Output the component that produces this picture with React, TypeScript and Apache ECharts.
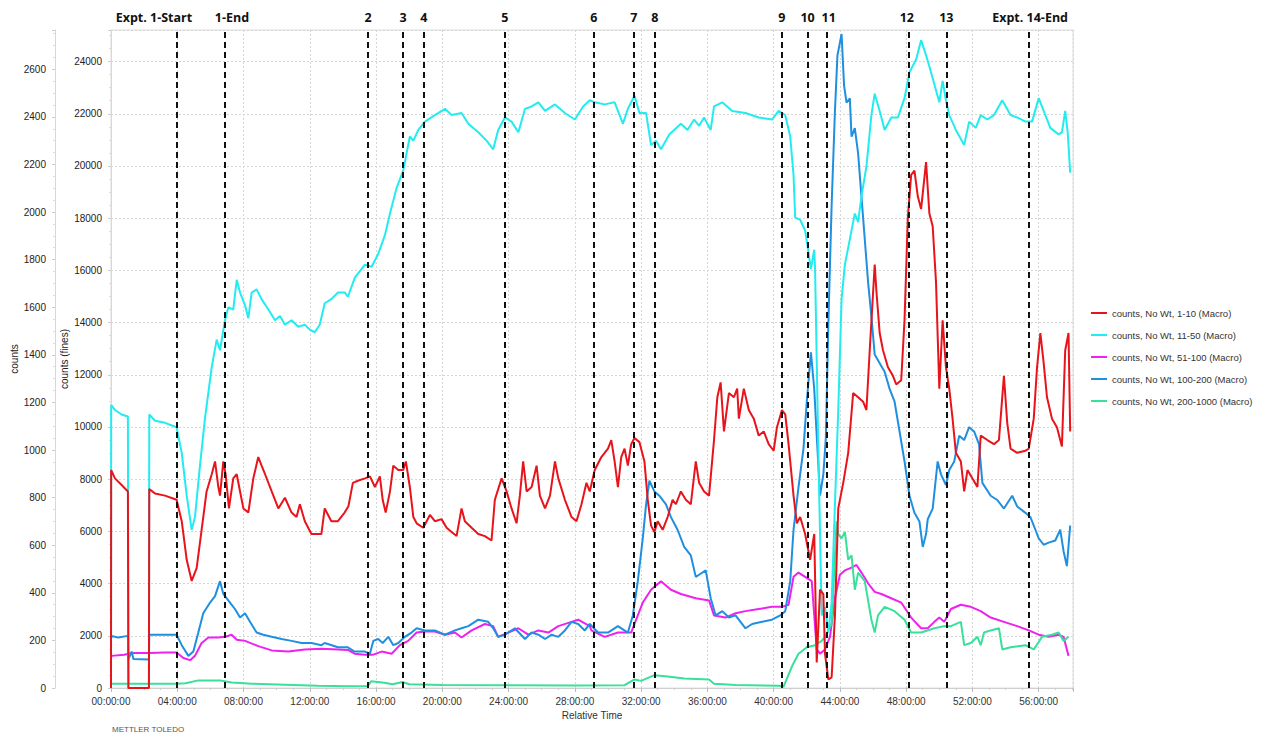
import React, { useEffect, useRef } from "react";
import * as echarts from "echarts";

// ---- data (time in hours, red/cyan in "counts (fines)", others in "counts") ----
const seriesNames = [
  "counts, No Wt, 1-10 (Macro)",
  "counts, No Wt, 11-50 (Macro)",
  "counts, No Wt, 51-100 (Macro)",
  "counts, No Wt, 100-200 (Macro)",
  "counts, No Wt, 200-1000 (Macro)",
];

const redData = [[0,0],[0.01,8350],[0.24,8030],[0.64,7780],[1.02,7530],[1.05,0],[2.29,0],[2.31,7620],[2.66,7450],[3.26,7370],[3.96,7210],[4.27,6390],[4.57,4910],[4.87,4100],[5.17,4590],[5.47,6060],[5.77,7530],[6.08,8190],[6.28,8680],[6.48,7700],[6.58,7370],[6.78,8680],[6.92,8190],[7.12,6880],[7.38,8030],[7.59,8190],[7.79,7530],[7.99,6880],[8.29,6720],[8.59,8030],[8.89,8850],[9.09,8520],[9.3,8190],[9.7,7530],[10.1,6880],[10.5,7290],[10.9,6720],[11.2,6550],[11.4,7040],[11.7,6390],[12.1,5900],[12.7,5900],[12.9,6880],[13.3,6390],[13.7,6390],[14.1,6720],[14.33,6960],[14.6,7860],[14.9,7940],[15.33,8030],[15.63,8110],[15.93,7700],[16.23,8110],[16.4,7210],[16.58,6720],[16.84,7530],[17.04,8520],[17.34,8350],[17.64,8350],[17.8,8680],[18.04,7700],[18.25,6550],[18.45,6310],[18.85,6140],[19.25,6630],[19.55,6390],[19.95,6470],[20.26,6140],[20.56,5980],[20.86,5820],[21.16,6880],[21.36,6390],[21.77,6140],[22.17,5900],[22.57,5820],[22.97,5650],[23.17,7210],[23.58,8030],[23.88,7530],[24.18,6880],[24.48,6310],[24.68,7370],[24.88,8680],[25.09,7530],[25.39,7700],[25.69,8520],[25.89,7370],[26.2,6880],[26.5,7370],[26.8,8680],[27.0,8030],[27.4,7210],[27.8,6550],[28.1,6390],[28.4,7040],[28.7,7860],[28.9,7530],[29.2,8350],[29.6,8850],[30.0,9170],[30.2,9500],[30.4,8680],[30.6,7700],[30.8,8850],[31.0,9170],[31.2,8520],[31.4,9340],[31.6,9580],[31.9,9420],[32.2,8680],[32.4,7210],[32.6,6220],[32.8,5980],[33.0,6390],[33.3,6060],[33.6,6550],[33.9,7210],[34.1,7040],[34.4,7530],[34.7,7210],[35.0,7040],[35.3,8680],[35.5,7860],[35.8,7530],[36.1,7370],[36.4,9500],[36.6,11140],[36.8,11710],[37.0,9830],[37.3,11300],[37.6,11140],[37.8,11470],[37.9,10320],[38.2,11470],[38.5,10650],[38.8,10320],[39.1,9670],[39.4,9830],[39.7,9340],[40.0,9090],[40.2,9990],[40.5,10650],[40.7,10480],[40.9,9340],[41.2,7370],[41.4,6310],[41.6,6550],[41.9,5900],[42.2,4910],[42.45,5900],[42.6,980],[42.8,3770],[43.0,3600],[43.1,1310],[43.3,330],[43.5,410],[43.7,2780],[43.9,6880],[44.2,7860],[44.5,9010],[44.8,11300],[45.1,11140],[45.4,10970],[45.6,10650],[45.8,12940],[46.1,16220],[46.2,15230],[46.4,13600],[46.6,12940],[46.9,12290],[47.2,11960],[47.4,11630],[47.7,11790],[47.9,14090],[48.1,18020],[48.3,19660],[48.5,19820],[48.7,18840],[48.9,18350],[49.2,20150],[49.4,18180],[49.6,17690],[49.8,15560],[50.0,11470],[50.2,14090],[50.4,12290],[50.6,11470],[50.8,10320],[51.0,9010],[51.3,8680],[51.5,7530],[51.7,8350],[52.0,8030],[52.3,7700],[52.5,9670],[52.9,9500],[53.3,9340],[53.6,9500],[53.9,11960],[54.1,10160],[54.3,9170],[54.7,9010],[55.2,9090],[55.4,9170],[55.7,10320],[55.9,12290],[56.1,13600],[56.3,12450],[56.5,11140],[56.8,10320],[57.1,9990],[57.4,9250],[57.6,12940],[57.8,13600],[57.9,9830]];

const cyanData = [[0,0],[0.01,10844],[0.24,10650],[0.64,10480],[1.02,10400],[1.05,0],[2.29,0],[2.31,10480],[2.66,10240],[3.26,10160],[3.96,9990],[4.27,9010],[4.57,7370],[4.87,6060],[5.07,6550],[5.37,8520],[5.67,10320],[6.08,12290],[6.38,13350],[6.58,12940],[6.88,14090],[7.08,14580],[7.38,14500],[7.59,15640],[7.79,15150],[8.09,14660],[8.29,14170],[8.49,15150],[8.79,15270],[9.09,14900],[9.5,14500],[9.9,14090],[10.2,14250],[10.5,13920],[10.9,14090],[11.3,13840],[11.7,13920],[12.0,13730],[12.3,13630],[12.6,13920],[12.9,14740],[13.3,14900],[13.7,15150],[14.12,15150],[14.3,14990],[14.72,15720],[15.33,16220],[15.73,16140],[16.13,16630],[16.54,17360],[16.84,18180],[17.24,19160],[17.64,19820],[18.04,21130],[18.25,20970],[18.55,21380],[18.95,21700],[19.55,21950],[20.16,22190],[20.56,21950],[21.16,22030],[21.57,21620],[22.17,21290],[22.67,20970],[23.07,20640],[23.37,21380],[23.78,21860],[24.18,21700],[24.59,21290],[24.99,22190],[25.39,22280],[25.8,22440],[26.2,22110],[26.8,22360],[27.4,22030],[28.0,21780],[28.5,22280],[28.9,22520],[29.2,22440],[29.8,22360],[30.4,22440],[30.9,21620],[31.2,22190],[31.6,22690],[31.9,22030],[32.3,22030],[32.6,20800],[32.9,20970],[33.2,20640],[33.7,21210],[34.4,21620],[34.8,21380],[35.2,21780],[35.5,21540],[35.8,21860],[36.2,21380],[36.4,22280],[36.9,22440],[37.5,22110],[38.3,22030],[39.1,21860],[39.9,21780],[40.3,22110],[40.7,21950],[41.0,21130],[41.2,19660],[41.3,18020],[41.6,17940],[41.9,17530],[42.1,16710],[42.25,16050],[42.45,16790],[42.5,16050],[42.7,9010],[42.9,2780],[43.1,3110],[43.3,2130],[43.5,3280],[43.7,7040],[43.9,10650],[44.1,14900],[44.3,16220],[44.6,17200],[44.9,18180],[45.1,17850],[45.3,18840],[45.6,19980],[45.9,21950],[46.1,22770],[46.4,22110],[46.7,21380],[47.1,21860],[47.5,21860],[47.9,22600],[48.2,23590],[48.6,24080],[48.9,24820],[49.2,24240],[49.5,23590],[50.0,22440],[50.2,23260],[50.4,22520],[50.6,21950],[51.0,21380],[51.5,20800],[51.8,21700],[52.2,21460],[52.5,21950],[52.9,21780],[53.3,21950],[53.8,22520],[54.3,21950],[54.7,21860],[55.2,21700],[55.6,21700],[56.0,22600],[56.3,22110],[56.7,21460],[57.2,21210],[57.4,21290],[57.6,22110],[57.75,21290],[57.9,19740]];

const magentaData = [[0,125],[0.02,135],[0.8,140],[1.25,147],[2.3,147],[3.26,149],[3.96,149],[4.37,126],[4.77,117],[5.07,135],[5.47,189],[5.88,212],[6.48,212],[6.88,215],[7.28,224],[7.59,203],[8.09,198],[8.89,176],[9.7,158],[10.7,153],[11.7,162],[12.7,165],[13.7,162],[14.3,160],[14.7,144],[15.33,140],[15.83,140],[16.34,153],[16.94,144],[17.44,180],[17.94,198],[18.45,233],[18.95,237],[19.55,237],[20.16,224],[20.76,233],[21.16,212],[21.77,242],[22.57,269],[23.07,260],[23.37,215],[23.98,233],[24.59,251],[25.19,224],[25.8,242],[26.4,233],[27.0,260],[27.8,278],[28.2,287],[28.9,260],[29.0,242],[29.8,215],[30.6,233],[31.4,233],[31.7,287],[32.1,359],[32.6,413],[33.2,449],[33.8,413],[34.4,395],[35.3,377],[36.1,368],[36.4,305],[37.1,296],[37.7,314],[38.3,323],[39.1,332],[39.9,341],[40.5,341],[40.9,350],[41.2,467],[41.5,485],[41.9,467],[42.3,449],[42.6,162],[42.8,144],[43.1,162],[43.4,215],[43.7,377],[44.0,476],[44.3,494],[44.7,506],[45.0,517],[45.3,485],[45.7,440],[46.1,404],[46.5,395],[47.1,377],[47.7,359],[48.3,296],[48.9,251],[49.3,251],[49.7,278],[50.0,296],[50.3,278],[50.7,332],[51.3,350],[51.9,341],[52.5,323],[53.1,296],[53.9,278],[54.7,260],[55.4,242],[56.0,224],[56.6,215],[57.2,224],[57.5,215],[57.8,135]];

const blueData = [[0,200],[0.01,219],[0.44,212],[1.02,219],[1.05,120],[1.25,153],[1.35,122],[2.29,120],[2.31,224],[3.26,224],[3.96,224],[4.27,180],[4.67,135],[4.97,153],[5.27,233],[5.57,314],[5.98,359],[6.28,386],[6.58,449],[6.78,395],[7.08,368],[7.48,332],[7.79,296],[8.09,314],[8.39,278],[8.79,233],[9.19,224],[9.7,215],[10.3,206],[10.9,198],[11.5,189],[12.1,189],[12.7,180],[12.9,189],[13.7,171],[14.3,171],[14.7,153],[15.33,153],[15.63,144],[15.83,198],[16.13,206],[16.4,189],[16.74,215],[17.04,180],[17.34,189],[17.74,215],[18.14,233],[18.45,251],[18.95,242],[19.55,242],[20.16,224],[20.76,242],[21.16,251],[21.57,260],[22.17,287],[22.77,278],[23.07,251],[23.37,215],[23.78,224],[24.38,251],[24.99,206],[25.39,233],[25.8,224],[26.2,206],[26.6,224],[27.0,215],[27.4,242],[27.8,278],[28.2,269],[28.6,242],[28.9,269],[29.4,233],[30.0,233],[30.6,260],[31.2,233],[31.5,305],[31.8,449],[32.1,629],[32.3,772],[32.5,871],[32.8,826],[33.1,808],[33.5,772],[33.8,718],[34.2,665],[34.6,593],[35.0,557],[35.3,467],[35.5,476],[35.9,494],[36.2,377],[36.5,305],[36.9,323],[37.3,296],[37.7,305],[38.3,251],[38.7,269],[39.3,278],[39.9,287],[40.4,305],[40.7,323],[41.0,449],[41.2,665],[41.5,844],[41.8,1006],[42.0,1203],[42.25,1410],[42.45,1257],[42.6,1060],[42.8,808],[43.0,898],[43.15,1050],[43.3,1527],[43.5,2030],[43.7,2425],[43.85,2658],[44.0,2712],[44.1,2748],[44.25,2532],[44.4,2460],[44.6,2478],[44.7,2317],[44.9,2353],[45.1,2245],[45.3,2065],[45.5,1886],[45.7,1706],[45.9,1562],[46.1,1401],[46.4,1365],[46.7,1329],[47.0,1257],[47.3,1203],[47.6,1078],[47.9,952],[48.2,808],[48.5,736],[48.8,700],[49.0,593],[49.2,647],[49.3,709],[49.6,754],[49.9,952],[50.1,898],[50.4,853],[50.6,916],[50.9,952],[51.2,1060],[51.5,1042],[51.8,1096],[52.1,1078],[52.4,1024],[52.6,862],[53.1,808],[53.5,790],[53.9,754],[54.4,808],[54.7,763],[55.2,736],[55.5,718],[55.8,665],[56.0,629],[56.3,602],[56.6,611],[57.0,620],[57.3,665],[57.5,575],[57.7,512],[57.9,683]];

const greenData = [[0,10],[0.02,18],[3.96,18],[4.5,20],[5.27,32],[5.9,31],[6.58,32],[7.28,23],[8.5,18],[10.5,14],[12.5,9],[14.3,7],[15.5,8],[15.7,28],[16.5,22],[17.0,16],[17.6,25],[18.0,16],[20,13],[24,12],[28,11],[31.0,12],[31.6,36],[32.0,30],[32.8,54],[33.6,48],[34.6,40],[36.1,36],[36.4,18],[37.7,13],[40.3,9],[40.6,6],[41.1,90],[41.5,144],[42.0,171],[42.5,180],[42.9,198],[43.1,215],[43.5,269],[43.8,700],[43.9,647],[44.1,629],[44.3,656],[44.5,539],[44.7,557],[44.9,413],[45.1,485],[45.5,449],[45.9,287],[46.1,233],[46.3,305],[46.7,341],[47.3,323],[47.9,287],[48.3,233],[48.9,233],[49.7,251],[50.3,260],[50.7,260],[51.3,278],[51.5,180],[51.9,189],[52.3,215],[52.5,180],[52.7,233],[53.1,242],[53.6,251],[53.8,162],[54.3,171],[55.2,180],[55.7,162],[56.2,215],[56.8,224],[57.2,233],[57.5,198],[57.8,215]];

const eventTimes = [3.98, 6.88, 15.52, 17.63, 18.89, 23.78, 29.15, 31.56, 32.83, 40.5, 42.05, 43.2, 48.16, 50.42, 55.42];
const eventLabels = ["Expt. 1-Start", "1-End", "2", "3", "4", "5", "6", "7", "8", "9", "10", "11", "12", "13", "Expt. 14-End"];
const eventLabelShift = [-23, 7, 0, 0, 0, 0, 0, 0, 0, 0, 0, 2, -2, 0, 1];

const colors = ["#e8141b", "#22ecf0", "#ee22ee", "#1f8fe0", "#38e09a"];
const FONT = "Liberation Sans, Arial, sans-serif";

export default function App() {
  const ref = useRef<HTMLDivElement>(null);
  useEffect(() => {
    const chart = echarts.init(ref.current!, null, { renderer: "svg" });
    const pad = (v: number) => (v < 10 ? "0" + v : "" + v) + ":00:00";
    const plain = (v: number) => String(v);
    const lineSeries = (i: number, data: number[][], yIdx: number, z: number) => ({
      name: seriesNames[i],
      type: "line",
      data,
      yAxisIndex: yIdx,
      showSymbol: false,
      symbol: "none",
      z,
      lineStyle: { color: colors[i], width: 2 },
      itemStyle: { color: colors[i] },
    });
    const red: any = lineSeries(0, redData, 0, 4);
    red.markLine = {
      silent: true,
      symbol: "none",
      animation: false,
      lineStyle: { color: "#111", type: [6, 4], width: 2 },
      label: {
        show: true,
        position: "end",
        distance: 6,
        fontFamily: "Open Sans, Noto Sans, sans-serif",
        fontWeight: "bold",
        fontSize: 12.5,
        color: "#111",
      },
      data: eventTimes.map((t, i) => ({
        xAxis: t,
        label: { formatter: eventLabels[i], offset: [eventLabelShift[i], 0] },
      })),
    };
    const option: any = {
      animation: false,
      textStyle: { fontFamily: FONT },
      grid: {
        left: 111, right: 189, top: 30, bottom: 52,
        containLabel: false, outerBoundsMode: "none",
        show: true, borderColor: "#dcdcdc", borderWidth: 1, backgroundColor: "#fff",
      },
      legend: {
        orient: "vertical",
        left: 1086,
        top: 303,
        itemWidth: 16,
        itemHeight: 2,
        itemGap: 12,
        icon: "rect",
        textStyle: { fontSize: 9.5, color: "#333", fontFamily: FONT },
        data: seriesNames,
      },
      xAxis: {
        type: "value",
        min: 0,
        max: 58.07,
        interval: 4,
        name: "Relative Time",
        nameLocation: "middle",
        nameGap: 22,
        nameMoveOverlap: false,
        nameTextStyle: { fontSize: 10, color: "#333", fontFamily: FONT },
        axisLine: { lineStyle: { color: "#cfcfcf" } },
        axisTick: { show: true, length: 4, lineStyle: { color: "#bbb" } },
        minorTick: { show: true, splitNumber: 4, length: 2, lineStyle: { color: "#ccc" } },
        axisLabel: { fontSize: 10, color: "#333", margin: 8, showMaxLabel: false, formatter: (v: number) => pad(v) },
        splitLine: { show: true, lineStyle: { color: "#d6d6d6", type: [2, 2] } },
      },
      yAxis: [
        {
          type: "value",
          position: "left",
          min: 0,
          max: 25210,
          interval: 2000,
          name: "counts (fines)",
          nameLocation: "middle",
          nameGap: 42,
          nameMoveOverlap: false,
          nameTextStyle: { fontSize: 10, color: "#222", fontFamily: FONT },
          axisLine: { show: true, lineStyle: { color: "#d8d8d8" } },
          axisTick: { show: true, length: 3, lineStyle: { color: "#ccc" } },
          minorTick: { show: true, splitNumber: 4, length: 2, lineStyle: { color: "#ddd" } },
          axisLabel: { fontSize: 10, color: "#222", margin: 9, showMaxLabel: false, formatter: plain },
          splitLine: { show: true, lineStyle: { color: "#d6d6d6", type: [2, 2] } },
        },
        {
          type: "value",
          position: "left",
          offset: 56,
          min: 0,
          max: 2765,
          interval: 200,
          name: "counts",
          nameLocation: "middle",
          nameGap: 36,
          nameMoveOverlap: false,
          nameTextStyle: { fontSize: 10, color: "#222", fontFamily: FONT },
          axisLine: { show: true, lineStyle: { color: "#d8d8d8" } },
          axisTick: { show: true, length: 3, lineStyle: { color: "#ccc" } },
          minorTick: { show: true, splitNumber: 4, length: 2, lineStyle: { color: "#ddd" } },
          axisLabel: { fontSize: 10, color: "#222", margin: 9, showMaxLabel: false, formatter: plain },
          splitLine: { show: false },
        },
      ],
      graphic: [
        { type: "text", left: 112, top: 725, style: { text: "METTLER TOLEDO", fontSize: 8, fill: "#555", fontFamily: FONT } },
      ],
      series: [
        red,
        lineSeries(1, cyanData, 0, 3),
        lineSeries(2, magentaData, 1, 2),
        lineSeries(3, blueData, 1, 2),
        lineSeries(4, greenData, 1, 2),
      ],
    };
    chart.setOption(option);
    return () => chart.dispose();
  }, []);
  return <div ref={ref} style={{ position: "fixed", left: 0, top: 0, width: 1262, height: 740, background: "#fff" }} />;
}
